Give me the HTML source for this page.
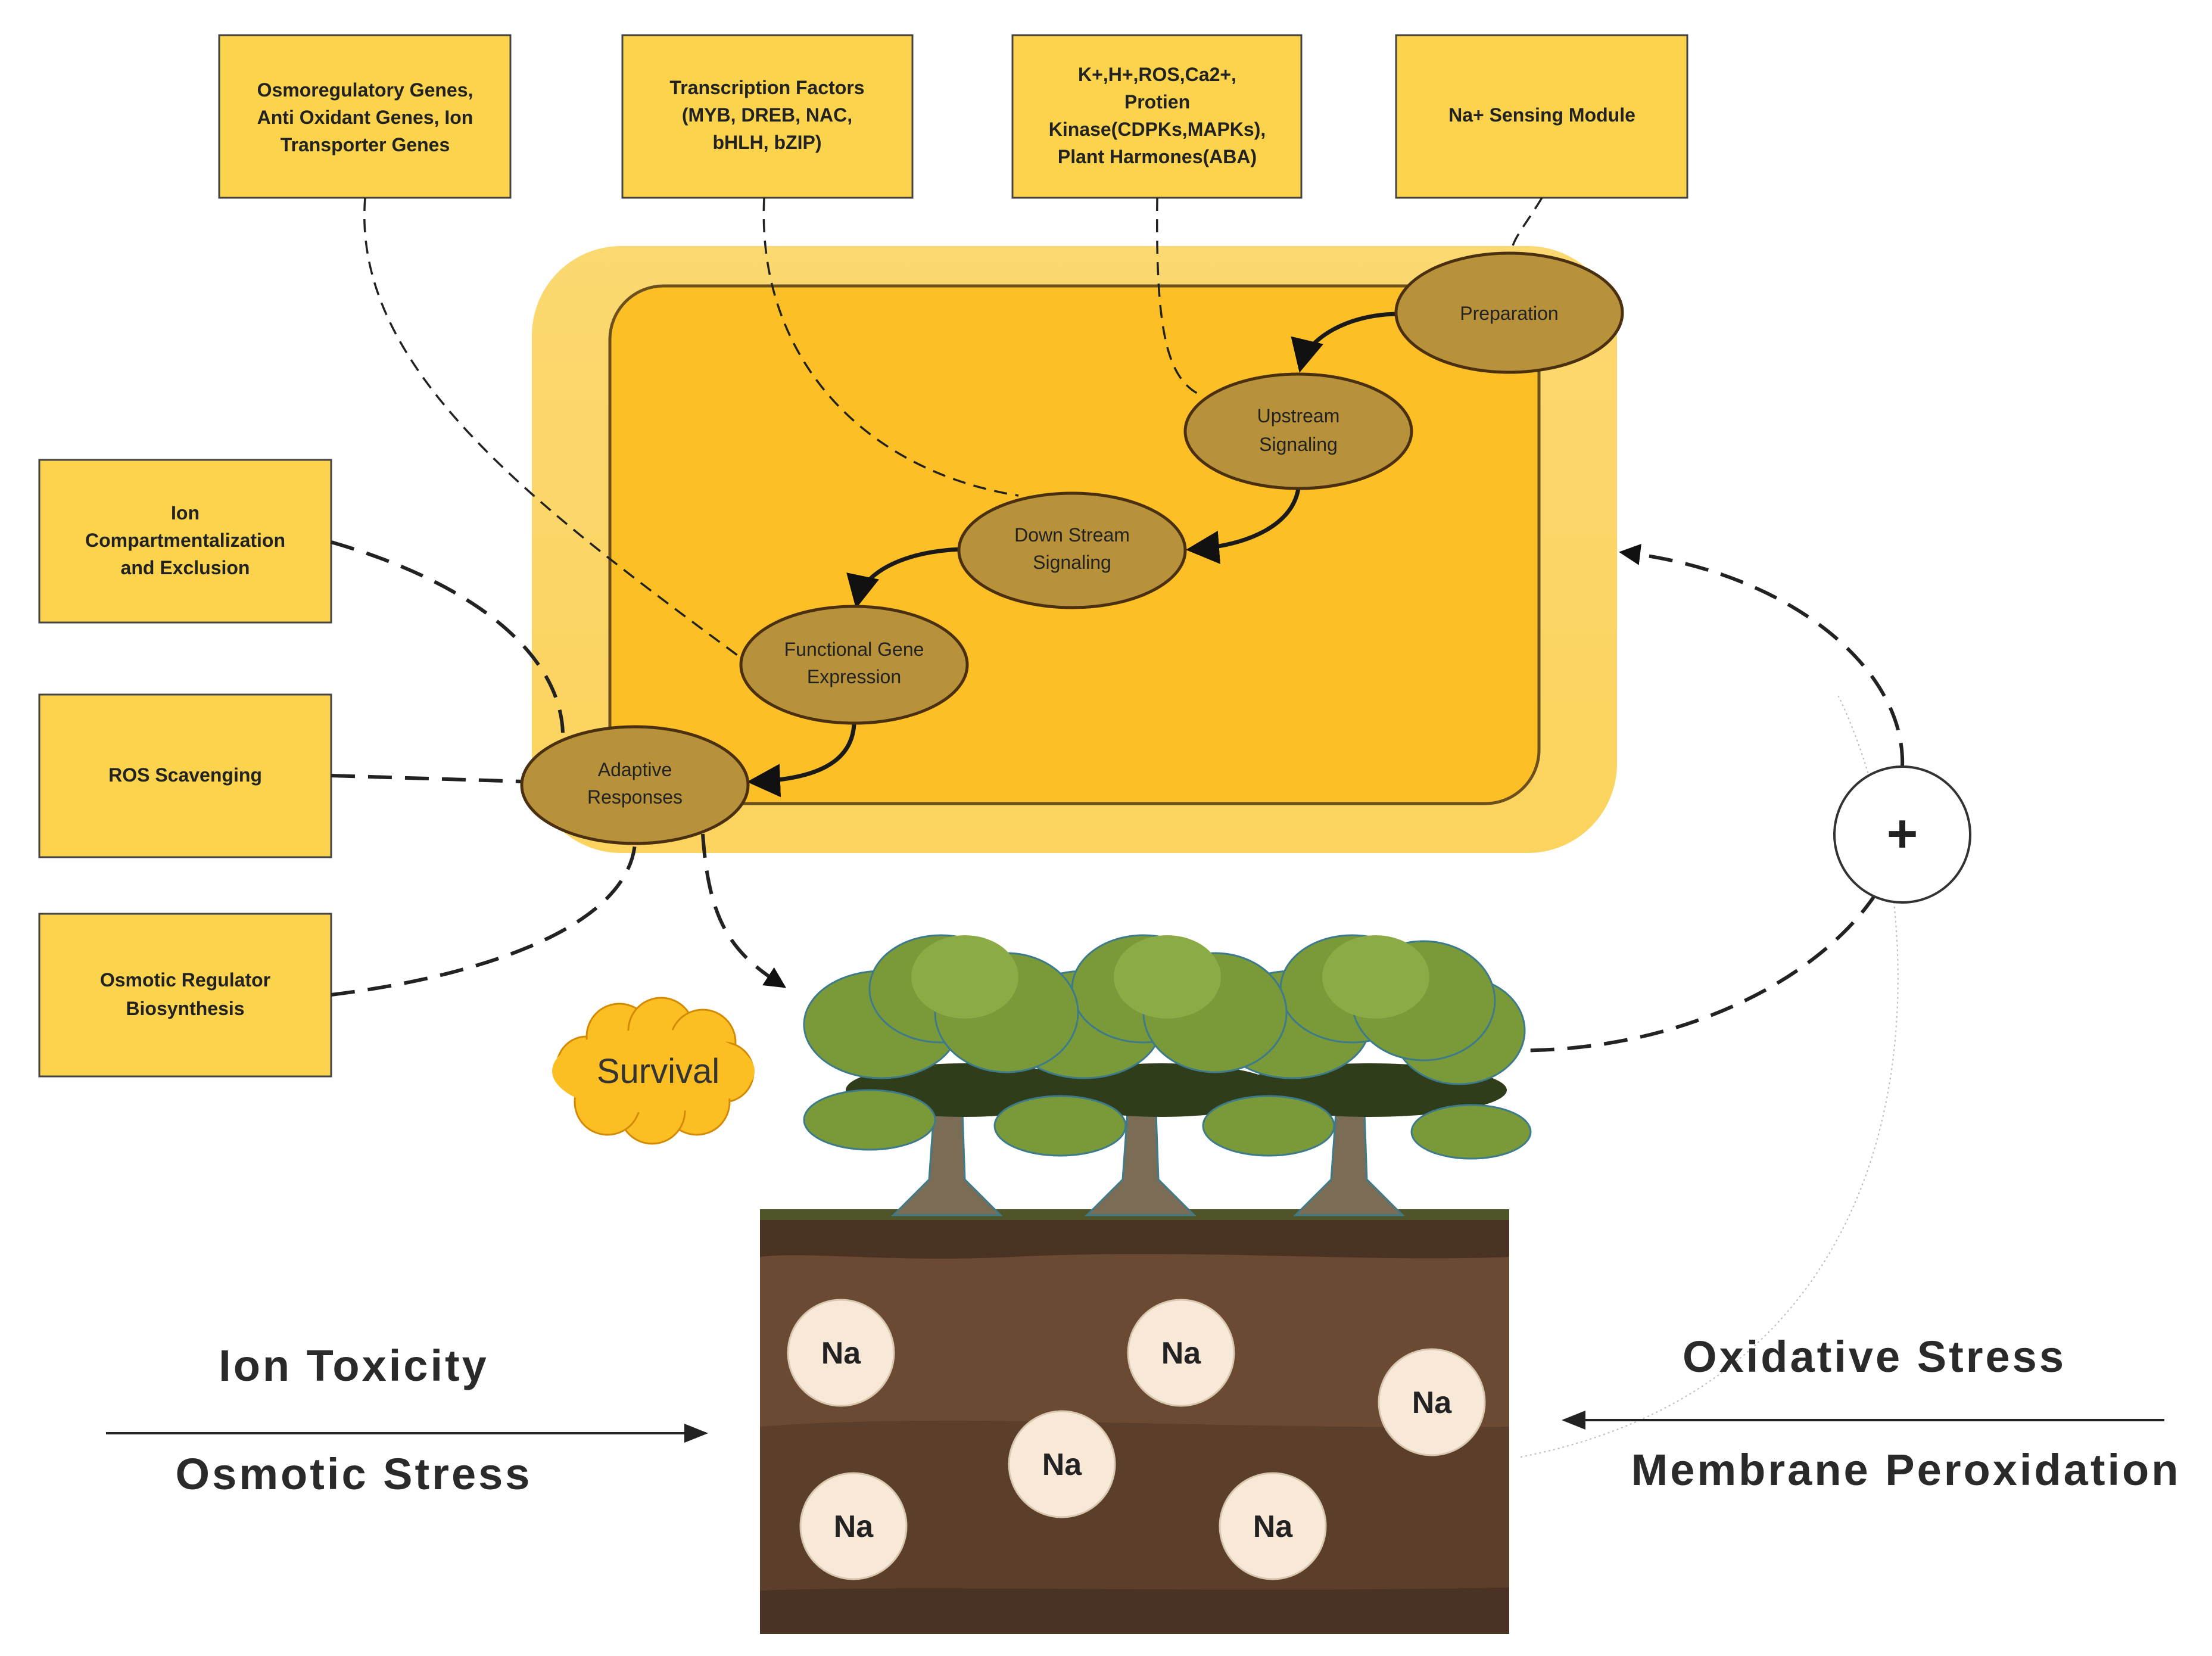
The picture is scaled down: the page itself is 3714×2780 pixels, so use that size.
<!DOCTYPE html>
<html><head><meta charset="utf-8"><style>
html,body{margin:0;padding:0;background:#fff;}
svg{display:block;}
text{font-family:"Liberation Sans",sans-serif;}
</style></head><body>
<svg width="3714" height="2780" viewBox="0 0 3714 2780" xmlns="http://www.w3.org/2000/svg">
<defs>
<marker id="ab" markerWidth="8" markerHeight="8" refX="6" refY="4" orient="auto" markerUnits="strokeWidth"><path d="M0,0 L8,4 L0,8 z" fill="#111"/></marker>
<marker id="ad" markerWidth="6" markerHeight="6" refX="4" refY="3" orient="auto" markerUnits="strokeWidth"><path d="M0,0 L6,3 L0,6 z" fill="#111"/></marker>
<marker id="al" markerWidth="10" markerHeight="8" refX="9" refY="4" orient="auto" markerUnits="strokeWidth"><path d="M0,0 L10,4 L0,8 z" fill="#222"/></marker>
<linearGradient id="og" x1="0" y1="0" x2="0" y2="1"><stop offset="0" stop-color="#fbd870"/><stop offset="1" stop-color="#fbd35e"/></linearGradient>
</defs>

<g stroke="#444" stroke-width="3" fill="#fbd34d">
<rect x="368" y="59" width="489" height="273"/>
<rect x="1045" y="59" width="487" height="273"/>
<rect x="1700" y="59" width="485" height="273"/>
<rect x="2344" y="59" width="489" height="273"/>
<rect x="66" y="772" width="490" height="273"/>
<rect x="66" y="1166" width="490" height="273"/>
<rect x="66" y="1534" width="490" height="273"/>
</g>
<g font-size="32" font-weight="bold" fill="#222" text-anchor="middle">
<text x="613" y="162">Osmoregulatory Genes,</text>
<text x="613" y="208">Anti Oxidant Genes, Ion</text>
<text x="613" y="254">Transporter Genes</text>
<text x="1288" y="158">Transcription Factors</text>
<text x="1288" y="204">(MYB, DREB, NAC,</text>
<text x="1288" y="250">bHLH, bZIP)</text>
<text x="1943" y="136">K+,H+,ROS,Ca2+,</text>
<text x="1943" y="182">Protien</text>
<text x="1943" y="228">Kinase(CDPKs,MAPKs),</text>
<text x="1943" y="274">Plant Harmones(ABA)</text>
<text x="2589" y="204">Na+ Sensing Module</text>
<text x="311" y="872">Ion</text>
<text x="311" y="918">Compartmentalization</text>
<text x="311" y="964">and Exclusion</text>
<text x="311" y="1312">ROS Scavenging</text>
<text x="311" y="1656">Osmotic Regulator</text>
<text x="311" y="1704">Biosynthesis</text>
</g>

<rect x="893" y="413" width="1822" height="1019" rx="150" fill="url(#og)"/>
<rect x="1024" y="480" width="1560" height="869" rx="90" fill="#fcbf26" stroke="#6b4f1c" stroke-width="5"/>

<g fill="none" stroke="#222" stroke-width="3.5" stroke-dasharray="22,14">
<path d="M613 332 C 590 620, 900 850, 1245 1105"/>
<path d="M1283 332 C 1270 600, 1450 790, 1710 832"/>
<path d="M1943 332 C 1940 560, 1960 640, 2020 665"/>
<path d="M2589 332 C 2560 380, 2540 400, 2537 425"/>
</g>
<g fill="none" stroke="#222" stroke-width="6" stroke-dasharray="40,22">
<path d="M556 910 C 800 980, 940 1100, 945 1230"/>
<path d="M556 1302 L 880 1312"/>
<path d="M556 1670 C 800 1640, 1050 1560, 1066 1418"/>
<path d="M1180 1400 C 1190 1550, 1230 1600, 1310 1652" marker-end="url(#ad)"/>
<path d="M3194 1287 C 3200 1120, 3000 960, 2730 928" marker-end="url(#ad)"/>
<path d="M3150 1500 C 3050 1650, 2800 1780, 2490 1762"/>
</g>
<path d="M2553 2446 C 3300 2300, 3250 1500, 3085 1165" fill="none" stroke="#bbb" stroke-width="2" stroke-dasharray="3,5"/>

<g fill="none" stroke="#1a1a1a" stroke-width="7">
<path d="M2350 527 C 2260 527, 2195 570, 2185 612" marker-end="url(#ab)"/>
<path d="M2180 820 C 2170 880, 2100 915, 2005 922" marker-end="url(#ab)"/>
<path d="M1615 922 C 1520 925, 1450 960, 1440 1008" marker-end="url(#ab)"/>
<path d="M1434 1216 C 1430 1280, 1370 1308, 1268 1312" marker-end="url(#ab)"/>
</g>

<g fill="#b8923a" stroke="#4a2f10" stroke-width="5">
<ellipse cx="2534" cy="525" rx="190" ry="100"/>
<ellipse cx="2180" cy="724" rx="190" ry="96"/>
<ellipse cx="1800" cy="924" rx="190" ry="96"/>
<ellipse cx="1434" cy="1116" rx="190" ry="98"/>
<ellipse cx="1066" cy="1318" rx="190" ry="98"/>
</g>
<g font-size="32" fill="#222" text-anchor="middle">
<text x="2534" y="537">Preparation</text>
<text x="2180" y="709">Upstream</text>
<text x="2180" y="757">Signaling</text>
<text x="1800" y="909">Down Stream</text>
<text x="1800" y="955">Signaling</text>
<text x="1434" y="1101">Functional Gene</text>
<text x="1434" y="1147">Expression</text>
<text x="1066" y="1303">Adaptive</text>
<text x="1066" y="1349">Responses</text>
</g>

<circle cx="3194" cy="1401" r="114" fill="#fff" stroke="#333" stroke-width="4"/>
<text x="3194" y="1430" font-size="90" font-weight="bold" text-anchor="middle" fill="#222">+</text>

<g fill="#fbbf24" stroke="#d48a00" stroke-width="3">
<circle cx="985" cy="1790" r="50"/><circle cx="1040" cy="1740" r="55"/><circle cx="1110" cy="1730" r="55"/>
<circle cx="1180" cy="1750" r="55"/><circle cx="1215" cy="1800" r="50"/><circle cx="1170" cy="1850" r="55"/>
<circle cx="1095" cy="1865" r="55"/><circle cx="1020" cy="1850" r="55"/>
</g>
<ellipse cx="1097" cy="1798" rx="170" ry="70" fill="#fbbf24"/>
<text x="1105" y="1818" font-size="58" text-anchor="middle" fill="#333">Survival</text>

<rect x="1276" y="2030" width="1258" height="713" fill="#6b4a33"/>
<path d="M1276 2030 H2534 V2110 C 2300 2120, 2000 2095, 1700 2110 C 1500 2120, 1350 2100, 1276 2110 Z" fill="#4a3322"/>
<path d="M1276 2395 C 1600 2370, 2000 2400, 2534 2395 V2743 H1276 Z" fill="#5c3f2b"/>
<path d="M1276 2670 C 1600 2660, 2000 2675, 2534 2665 V2743 H1276 Z" fill="#4a3324"/>
<rect x="1276" y="2030" width="1258" height="18" fill="#556b2f" opacity="0.6"/>
<g fill="#f8e8d8" stroke="#d8c8b0" stroke-width="3">
<circle cx="1412" cy="2271" r="89"/><circle cx="1983" cy="2271" r="89"/><circle cx="2404" cy="2354" r="89"/>
<circle cx="1783" cy="2458" r="89"/><circle cx="1433" cy="2562" r="89"/><circle cx="2137" cy="2562" r="89"/>
</g>
<g font-size="52" font-weight="bold" fill="#222" text-anchor="middle">
<text x="1412" y="2289">Na</text><text x="1983" y="2289">Na</text><text x="2404" y="2372">Na</text>
<text x="1783" y="2476">Na</text><text x="1433" y="2580">Na</text><text x="2137" y="2580">Na</text>
</g>

<g>
<g fill="#7a6c55" stroke="#3d7a8a" stroke-width="3">
<path d="M1570 1840 L1615 1840 L1620 1980 L1680 2040 L1500 2040 L1560 1980 Z"/>
<path d="M1895 1840 L1940 1840 L1945 1980 L2005 2040 L1825 2040 L1885 1980 Z"/>
<path d="M2245 1840 L2290 1840 L2295 1980 L2355 2040 L2175 2040 L2235 1980 Z"/>
</g>
<g fill="#2f3d1a">
<ellipse cx="1620" cy="1830" rx="200" ry="45"/><ellipse cx="1950" cy="1830" rx="200" ry="45"/><ellipse cx="2300" cy="1830" rx="230" ry="45"/>
</g>
<g fill="#7a9a3a" stroke="#3d7a8a" stroke-width="3">
<ellipse cx="1460" cy="1880" rx="110" ry="50"/><ellipse cx="1780" cy="1890" rx="110" ry="50"/>
<ellipse cx="2130" cy="1890" rx="110" ry="50"/><ellipse cx="2470" cy="1900" rx="100" ry="45"/>
<ellipse cx="1480" cy="1720" rx="130" ry="90"/><ellipse cx="1580" cy="1660" rx="120" ry="90"/>
<ellipse cx="1820" cy="1720" rx="130" ry="90"/><ellipse cx="1920" cy="1660" rx="120" ry="90"/>
<ellipse cx="2170" cy="1720" rx="130" ry="90"/><ellipse cx="2270" cy="1660" rx="120" ry="90"/>
<ellipse cx="2450" cy="1730" rx="110" ry="90"/>
<ellipse cx="1690" cy="1700" rx="120" ry="100"/><ellipse cx="2040" cy="1700" rx="120" ry="100"/><ellipse cx="2390" cy="1680" rx="120" ry="100"/>
</g>
<g fill="#8aab45">
<ellipse cx="1620" cy="1640" rx="90" ry="70"/><ellipse cx="1960" cy="1640" rx="90" ry="70"/><ellipse cx="2310" cy="1640" rx="90" ry="70"/>
</g>
</g>

<g font-size="74" font-weight="bold" fill="#2a2a2a" text-anchor="middle" letter-spacing="4">
<text x="594" y="2318">Ion Toxicity</text>
<text x="594" y="2500">Osmotic Stress</text>
<text x="3147" y="2303">Oxidative Stress</text>
<text x="3200" y="2493">Membrane Peroxidation</text>
</g>
<line x1="178" y1="2406" x2="1185" y2="2406" stroke="#222" stroke-width="4" marker-end="url(#al)"/>
<line x1="3634" y1="2384" x2="2626" y2="2384" stroke="#222" stroke-width="4" marker-end="url(#al)"/>
</svg>
</body></html>
